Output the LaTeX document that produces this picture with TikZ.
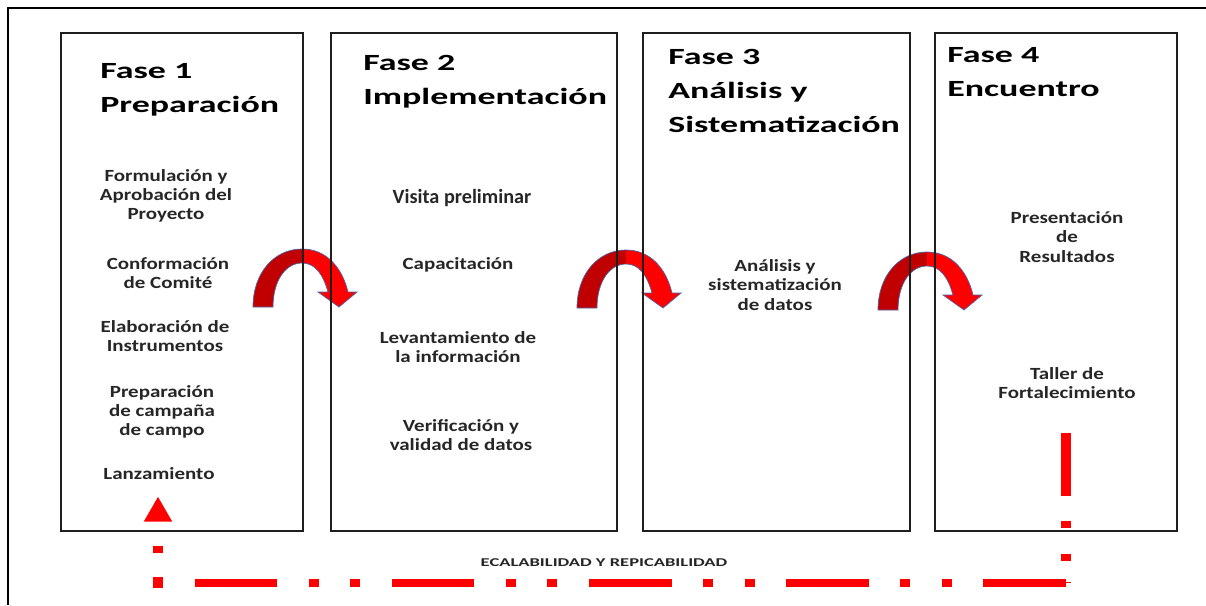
\documentclass[tikz,border=0pt]{standalone}
\usepackage{fontspec}
\setmainfont{Carlito}
\newfontfamily\headfont{Carlito}[FakeStretch=1.55]
\newfontfamily\itemfont{Carlito}[FakeStretch=1.23]
\usepackage{xcolor}
\definecolor{FrameGray}{HTML}{1E1E1E}
\definecolor{TextGray}{HTML}{262626}
\definecolor{ArrowDark}{HTML}{C00000}
\definecolor{ArrowLight}{HTML}{FF0000}
\definecolor{ArrowEdge}{HTML}{4A64A8}
\definecolor{LoopRed}{HTML}{FF0000}
\usetikzlibrary{shapes.geometric, backgrounds}

\begin{document}
\begin{tikzpicture}[
  x=0.02cm, y=-0.02cm,
  % Grundstile
  phasebox/.style={
    draw=FrameGray,
    line width=1.3pt,
    minimum height=9.96cm,
    inner sep=0pt
  },
  phasetitle/.style={
    font=\headfont\bfseries\fontsize{13.2}{19.3}\selectfont,
    align=left,
    anchor=base west,
    inner sep=0pt
  },
  task/.style={
    font=\itemfont\bfseries\fontsize{9.7}{10.9}\selectfont,
    text=TextGray,
    align=center,
    inner sep=0pt
  },
  bentleft/.style={fill=ArrowDark},
  bentright/.style={fill=ArrowLight},
  bentedge/.style={draw=ArrowEdge, line width=0.4pt},
  loopline/.style={draw=LoopRed},
  marker/.style={
    regular polygon,
    regular polygon sides=3,
    fill=LoopRed,
    minimum size=0.66cm,
    inner sep=0pt
  }
]
\useasboundingbox (0,0) rectangle (1206,605);

% =============================================================================
% MARCO
% =============================================================================
\draw[black, line width=1.5pt] (1206,8) -- (8,8) -- (8,605);

% =============================================================================
% CAJAS DE LAS FASES
% =============================================================================
\node[phasebox, minimum width=4.84cm] (fase1) at (182,282) {};
\node[phasebox, minimum width=5.72cm] (fase2) at (474,282) {};
\node[phasebox, minimum width=5.34cm] (fase3) at (776.5,282) {};
\node[phasebox, minimum width=4.84cm] (fase4) at (1056,282) {};

% Titulos (base = ultima linea)
\node[phasetitle] (tit1) at (100,112) {Fase 1\\Preparación};
\node[phasetitle] (tit2) at (363,104) {Fase 2\\Implementación};
\node[phasetitle] (tit3) at (668,132) {Fase 3\\Análisis y\\Sistematización};
\node[phasetitle] (tit4) at (947,96) {Fase 4\\Encuentro};

% =============================================================================
% FASE 1: PREPARACION
% =============================================================================
\foreach \x/\y/\txt [count=\k] in {
  166/196/{Formulación y\\Aprobación del\\Proyecto},
  168/273/{Conformación\\de Comité},
  165/336/{Elaboración de\\Instrumentos},
  162/412/{Preparación\\de campaña\\de campo},
  159/474/{Lanzamiento}} {
  \node[task] (prep\k) at (\x,\y) {\txt};
}

% =============================================================================
% FASE 2: IMPLEMENTACION
% =============================================================================
\node[task, font=\bfseries\fontsize{11.5}{13}\selectfont] (impl1) at (462,198) {Visita preliminar};
\foreach \x/\y/\txt [count=\k from 2] in {
  458/265/{Capacitación},
  458/347/{Levantamiento de\\la información},
  461/435/{Verificación y\\validad de datos}} {
  \node[task] (impl\k) at (\x,\y) {\txt};
}

% =============================================================================
% FASE 3 Y FASE 4
% =============================================================================
\node[task] (anal1) at (775,285) {Análisis y\\sistematización\\de datos};
\node[task] (encu1) at (1067,237) {Presentación\\de\\Resultados};
\node[task] (encu2) at (1067,383) {Taller de\\Fortalecimiento};

% =============================================================================
% FLECHAS CURVAS ENTRE FASES (detras de las cajas)
% =============================================================================
\begin{scope}[on background layer]
\fill[white] (0,0) rectangle (1206,605);
\foreach \fx/\fy in {253/307, 577/308, 878/310} {
  \begin{scope}[shift={(\fx,\fy)}]
    \fill[bentleft] (0,0) .. controls (0,-34) and (21,-58) .. (49,-58)
      -- (49,-44) .. controls (33,-44) and (20,-27) .. (20,0) -- cycle;
    \fill[bentright] (49,-58) .. controls (73,-58) and (89,-40) .. (95,-15)
      -- (104,-15) -- (86,0) -- (65,-15) -- (75,-15)
      .. controls (70,-33) and (62,-44) .. (49,-44) -- cycle;
    \draw[bentedge] (0,0) .. controls (0,-34) and (21,-58) .. (49,-58)
      .. controls (73,-58) and (89,-40) .. (95,-15)
      -- (104,-15) -- (86,0) -- (65,-15) -- (75,-15)
      .. controls (70,-33) and (62,-44) .. (49,-44)
      .. controls (33,-44) and (20,-27) .. (20,0) -- cycle;
  \end{scope}
}
\end{scope}

% =============================================================================
% RETROALIMENTACION: ESCALABILIDAD
% =============================================================================
\node[marker, anchor=south] (tri) at (158,522) {};
\coordinate (fbtop) at (1066,433);
\coordinate (fbR) at (1066,583);
\coordinate (fbL) at (158,583);
\draw[loopline, line width=6.2pt,
      dash pattern=on 36pt off 14pt on 4pt off 15pt on 4pt off 12pt] (fbtop) -- (fbR);
\draw[loopline, line width=4.3pt,
      dash pattern=on 47pt off 17.95pt on 5.7pt off 17.95pt on 5.7pt off 17.95pt] (fbR) -- (fbL);
\draw[loopline, line width=6.2pt,
      dash pattern=on 6.2pt off 13.6pt on 4pt off 20pt] ([yshift=-3pt]fbL) -- (tri.south);
\node[font=\headfont\bfseries\fontsize{6.8}{8}\selectfont, text=TextGray] (lazo) at (604,563) {ECALABILIDAD Y REPICABILIDAD};

\end{tikzpicture}
\end{document}
